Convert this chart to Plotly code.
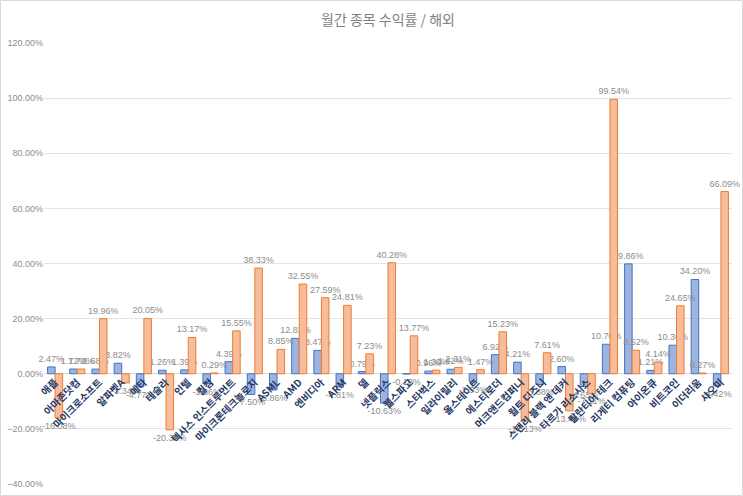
import plotly.graph_objects as go

categories = ["애플", "아마존닷컴", "마이크로소프트", "알파벳A", "메타", "테슬라", "인텔", "퀄컴",
              "텍사스 인스트루먼트", "마이크론테크놀로지", "ASML", "AMD", "엔비디아", "ARM", "델",
              "넷플릭스", "웰스파고", "스타벅스", "일라이릴리", "올스테이트", "에스티로더",
              "머크앤드컴퍼니", "월트 디즈니", "스탠리 블랙 앤 데커", "타르가 리소시스",
              "팔란티어 테크", "리게티 컴퓨팅", "아이온큐", "비트코인", "이더리움", "샤오미"]

series1 = [2.47, 1.72, 1.68, 3.82, -4.77, 1.26, 1.39, -3.56, 4.39, -7.50, -5.86, 12.83, 8.47,
           -4.81, 0.79, -10.63, -0.10, 0.96, 1.62, -2.93, 6.92, 4.21, -3.88, 2.60, -4.65,
           10.70, 39.86, 1.21, 10.36, 34.20, -4.42]
series2 = [-16.08, 1.72, 19.96, -3.34, 20.05, -20.35, 13.17, 0.29, 15.55, 38.33, 8.85, 32.55,
           27.59, 24.81, 7.23, 40.28, 13.77, 1.30, 2.31, 1.47, 15.23, -17.13, 7.61, -13.45,
           -7.11, 99.54, 8.52, 4.14, 24.65, 0.27, 66.09]

y1 = [v / 100 for v in series1]
y2 = [v / 100 for v in series2]

W, H = 743, 496
ml, mr, mt, mb = 44, 11, 43, 12
pw = W - ml - mr
ph = H - mt - mb
ymin, ymax = -0.4, 1.2

label_font = dict(family="Liberation Sans, Noto Sans CJK KR", size=9, color="#8C8C8C")

fig = go.Figure()
fig.add_trace(go.Bar(
    x=categories, y=y1, name="계열1",
    marker=dict(color="#9DB4E0", line=dict(color="#4472C4", width=1)),
    texttemplate="%{y:.2%}", textposition="outside", constraintext="none",
    cliponaxis=False, textfont=label_font,
))
fig.add_trace(go.Bar(
    x=categories, y=y2, name="계열2",
    marker=dict(color="#F7BC9B", line=dict(color="#ED7D31", width=1)),
    texttemplate="%{y:.2%}", textposition="outside", constraintext="none",
    cliponaxis=False, textfont=label_font,
))

zero_pos = (0 - ymin) / (ymax - ymin)

fig.update_layout(
    width=W, height=H,
    margin=dict(l=ml, r=mr, t=mt, b=mb, pad=0),
    paper_bgcolor="white", plot_bgcolor="white",
    barmode="group", bargap=0.32, bargroupgap=0.0,
    showlegend=False,
    title=dict(text="월간 종목 수익률 / 해외", x=0.5, xref="paper", xanchor="center",
               y=1 - 20 / H, yref="container", yanchor="middle",
               font=dict(family="Noto Sans CJK KR", size=14, color="#7F7F7F")),
    xaxis=dict(
        type="category", anchor="free", position=zero_pos,
        tickangle=-45, showgrid=False, showline=False, ticks="",
        tickfont=dict(family="Noto Sans CJK KR", size=10, color="#1F3864", weight="bold"),
        automargin=False,
    ),
    yaxis=dict(
        range=[ymin, ymax], dtick=0.2, tickformat=".2%",
        showgrid=True, gridcolor="#E3E3E3", gridwidth=1,
        zeroline=True, zerolinecolor="#D9D9D9", zerolinewidth=1,
        showline=False, ticks="",
        tickfont=dict(family="Liberation Sans", size=9, color="#8C8C8C"),
        automargin=False,
    ),
    uniformtext=dict(mode=False) if False else None,
)

fig.add_shape(type="rect", xref="paper", yref="paper",
              x0=(0.5 - ml) / pw, x1=(W - 0.5 - ml) / pw,
              y0=-(mb - 0.5) / ph, y1=1 + (mt - 0.5) / ph,
              line=dict(color="#D9D9D9", width=1), fillcolor="rgba(0,0,0,0)", layer="below")

fig.write_html("out.html")
